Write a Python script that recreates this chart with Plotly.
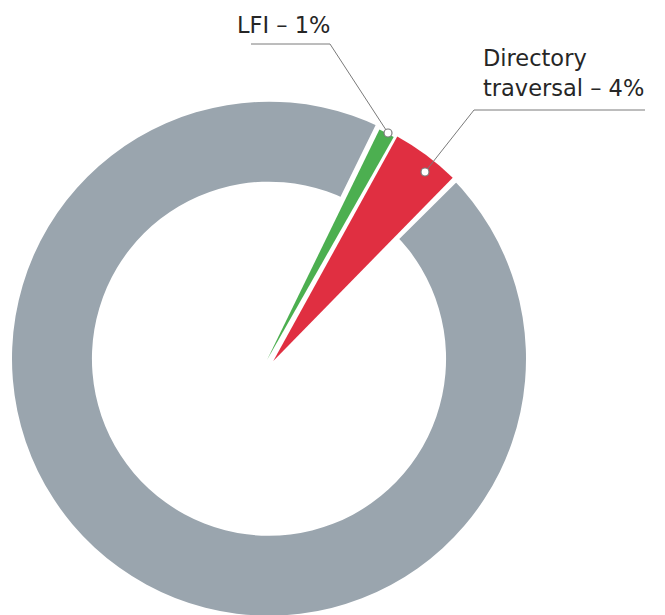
import plotly.graph_objects as go

labels = ["LFI", "Directory traversal", "Other"]
values = [1.0, 4.3, 94.7]
label_lines = [["LFI – 1%"], ["Directory", "traversal – 4%"]]
colors = ["#4caf50", "#e02f41", "#9aa5ae"]

W, H = 665, 615
OFF = 8  # default page body margin of the written html
transparent = "rgba(0,0,0,0)"

# ring geometry (page pixels)
ring_c, ring_R, hole = (269, 358.7), 257, 0.689
ring_rot = 26.1
gap_w = 14
# highlighted wedges: apex position and start angle (styling)
wedge_style = {
    0: dict(c=(267, 360), R=256.5, rot=26.0),
    1: dict(c=(273.3, 361), R=256.5, rot=28.9),
}


def px(x, y):
    return (x - OFF) / W, 1 - (y - OFF) / H


def domain(c, R):
    x, y = c
    return dict(x=[(x - OFF - R) / W, (x - OFF + R) / W],
                y=[max(0, 1 - (y - OFF + R) / H), min(1, 1 - (y - OFF - R) / H)])


total = sum(values)
fig = go.Figure()
# grey ring
fig.add_trace(go.Pie(
    labels=labels, values=values, sort=False, direction="clockwise",
    rotation=ring_rot, hole=hole, textinfo="none", hoverinfo="skip",
    marker=dict(colors=[transparent, transparent, colors[2]],
                line=dict(width=0)),
    domain=domain(ring_c, ring_R), showlegend=False,
))
# white gaps cut into the ring next to the highlighted slices
fig.add_trace(go.Pie(
    labels=labels, values=values, sort=False, direction="clockwise",
    rotation=ring_rot, hole=hole, textinfo="none", hoverinfo="skip",
    marker=dict(colors=[transparent] * 3,
                line=dict(color="white", width=[gap_w, gap_w, 0])),
    domain=domain(ring_c, ring_R), showlegend=False,
))
# highlighted slices as full wedges
for i, st in wedge_style.items():
    fig.add_trace(go.Pie(
        labels=[labels[i], "rest"], values=[values[i], total - values[i]],
        sort=False, direction="clockwise", rotation=st["rot"], hole=0,
        textinfo="none", hoverinfo="label+percent",
        marker=dict(colors=[colors[i], transparent], line=dict(width=0)),
        domain=domain(st["c"], st["R"]), showlegend=False,
    ))

shapes = []
annotations = []
line_style = dict(color="#7a7a7a", width=1)

leaders = [
    [(388, 133), (330, 44), (251, 44)],
    [(425, 172), (474, 110), (645, 110)],
]
for pts in leaders:
    for (x0, y0), (x1, y1) in zip(pts[:-1], pts[1:]):
        a, b = px(x0, y0)
        c, d = px(x1, y1)
        shapes.append(dict(type="line", xref="paper", yref="paper",
                           x0=a, y0=b, x1=c, y1=d, line=line_style))
    x, y = pts[0]
    r = 4
    a, b = px(x - r, y - r)
    c, d = px(x + r, y + r)
    shapes.append(dict(type="circle", xref="paper", yref="paper",
                       x0=a, y0=d, x1=c, y1=b, fillcolor="white",
                       line=dict(color="#7a7a7a", width=1.2)))

# (left x, baseline y) of each text line
line_pos = [[(236, 33)], [(482, 66), (482, 96)]]
for lines, poss in zip(label_lines, line_pos):
    for t, (x, y) in zip(lines, poss):
        a, b = px(x - 1, y)
        annotations.append(dict(text=t, x=a, y=b, xref="paper", yref="paper",
                                xanchor="left", yanchor="middle", yshift=8,
                                showarrow=False, align="left",
                                font=dict(family="DejaVu Sans", size=22.5,
                                          color="#262626")))

fig.update_layout(
    width=W, height=H, margin=dict(l=0, r=0, t=0, b=0),
    paper_bgcolor="white", plot_bgcolor="white",
    shapes=shapes, annotations=annotations,
)
fig.write_html("out.html")
